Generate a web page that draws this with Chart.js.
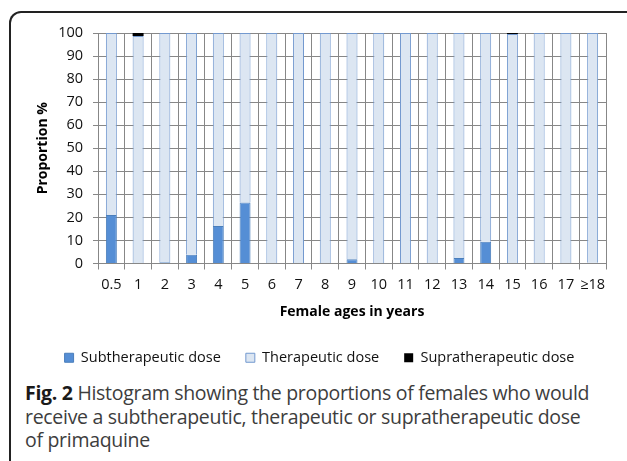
<!DOCTYPE html>
<html>
<head>
<meta charset="utf-8">
<script src="https://cdn.jsdelivr.net/npm/chart.js@4.4.1/dist/chart.umd.min.js"></script>
<style>
  html, body { margin: 0; padding: 0; background: #fff; }
  body { width: 627px; height: 461px; position: relative; overflow: hidden; }
  #frame {
    position: absolute; left: 9px; top: 11px; width: 640px; height: 470px;
    border-top: 2px solid #222; border-left: 2px solid #222; border-right: 2px solid #222;
    border-radius: 12px 12px 0 0; box-sizing: border-box;
  }
  #wrap { position: absolute; left: 0; top: 0; width: 627px; height: 375px; }
  #caption {
    position: absolute; left: 25px; top: 381px; width: 600px;
    font-family: "Open Sans", sans-serif; font-size: 19.5px; line-height: 23.5px; color: #3d3d3d;
    letter-spacing: -0.3px; white-space: nowrap;
  }
  #caption b { font-weight: 700; color: #1a1a1a; }
</style>
</head>
<body>
<div id="frame"></div>
<div id="wrap"><canvas id="chart"></canvas></div>
<div id="caption"><b>Fig. 2</b> Histogram showing the proportions of females who would<br>receive a subtherapeutic, therapeutic or supratherapeutic dose<br>of primaquine</div>
<script>
document.addEventListener('DOMContentLoaded', () => {
    // ages and dose proportions (%)
    const ages = ['0.5', '1', '2', '3', '4', '5', '6', '7', '8', '9', '10', '11', '12', '13', '14', '15', '16', '17', '≥18'];
    const subtherapeutic = [21, 0, 0.5, 3.8, 16.3, 26.5, 0, 0, 0, 1.8, 0, 0, 0, 2.4, 9.4, 0, 0, 0, 0.3];
    const supratherapeutic = [0, 1.3, 0, 0, 0, 0, 0, 0, 0, 0, 0, 0, 0, 0, 0, 0.4, 0, 0, 0];
    const therapeutic = ages.map((a, i) => 100 - subtherapeutic[i] - supratherapeutic[i]);
    const yTicks = [0, 10, 20, 30, 40, 50, 60, 70, 80, 90, 100];

    const gridColor = '#878787';
    const font = 'Open Sans';

    const ctx = document.getElementById('chart').getContext('2d');
    new Chart(ctx, {
        type: 'bar',
        data: {
            labels: ages,
            datasets: [
                { label: 'Subtherapeutic dose', data: subtherapeutic, backgroundColor: '#558ed5', borderColor: '#4a7ebb', borderWidth: 1 },
                { label: 'Therapeutic dose', data: therapeutic, backgroundColor: '#dce6f2', borderColor: '#7399cf', borderWidth: 1 },
                { label: 'Supratherapeutic dose', data: supratherapeutic, backgroundColor: '#000000', borderColor: '#000000', borderWidth: 0 }
            ]
        },
        options: {
            responsive: true,
            maintainAspectRatio: false,
            animation: false,
            datasets: { bar: { barPercentage: 0.41, categoryPercentage: 1 } },
            layout: { padding: { top: 33, right: 21, left: 33, bottom: 0 } },
            plugins: {
                tooltip: { enabled: false },
                legend: {
                    position: 'bottom',
                    labels: {
                        font: { family: font, size: 14.5 },
                        color: '#111',
                        boxWidth: 9,
                        boxHeight: 9,
                        padding: 25
                    }
                }
            },
            scales: {
                x: {
                    stacked: true,
                    afterFit: (scale) => { scale.height = 62; },
                    grid: { color: gridColor, tickLength: 6, tickColor: gridColor, offset: true },
                    border: { color: gridColor },
                    ticks: { font: { family: font, size: 14.5 }, color: '#111', maxRotation: 0, autoSkip: false, padding: 7 },
                    title: { display: true, text: 'Female ages in years', font: { family: font, size: 14, weight: 'bold' }, color: '#000', padding: { top: 4, bottom: 5 } }
                },
                y: {
                    stacked: true,
                    min: 0,
                    max: 100,
                    afterFit: (scale) => { scale.width = 65; },
                    afterBuildTicks: (scale) => { scale.ticks = yTicks.map(v => ({ value: v })); },
                    grid: { color: gridColor, tickLength: 5, tickColor: gridColor },
                    border: { color: gridColor },
                    ticks: { font: { family: font, size: 14.5 }, color: '#111', padding: 10 },
                    title: { display: true, text: 'Proportion %', font: { family: font, size: 14, weight: 'bold' }, color: '#000', padding: { top: 2, bottom: 2 } }
                }
            }
        }
    });
});
</script>
</body>
</html>
